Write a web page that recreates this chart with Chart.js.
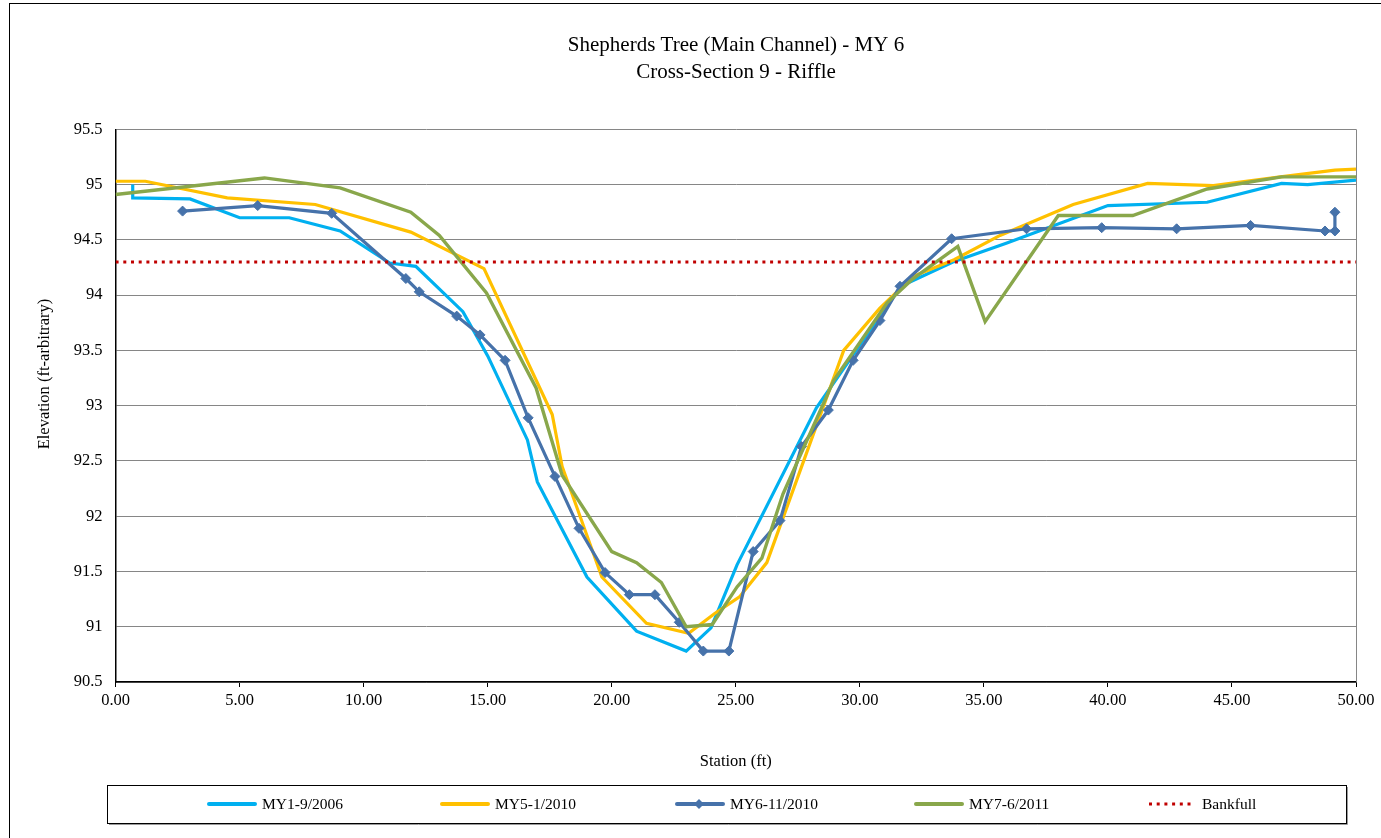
<!DOCTYPE html>
<html>
<head>
<meta charset="utf-8">
<title>Shepherds Tree - Cross-Section 9</title>
<script src="https://cdn.jsdelivr.net/npm/chart.js@4.4.1/dist/chart.umd.min.js"></script>
<style>
  html, body { margin:0; padding:0; background:#fff; }
  #wrap { width:1381px; height:838px; position:relative; }
</style>
</head>
<body>
<div id="wrap">
  <canvas id="xsChart" width="1381" height="838"></canvas>
</div>
<script>

/* DATA */

const titleLines = ["Shepherds Tree (Main Channel) - MY 6", "Cross-Section 9 - Riffle"];
const xTitle = "Station (ft)";
const yTitle = "Elevation (ft-arbitrary)";

const xTicks = [0, 5, 10, 15, 20, 25, 30, 35, 40, 45, 50];
const yTicks = [90.5, 91, 91.5, 92, 92.5, 93, 93.5, 94, 94.5, 95, 95.5];

const my1Station = [0.69, 0.69, 3.0, 5.0, 7.0, 9.05, 11.05, 12.1, 14.0, 15.0, 16.6, 17.0, 19.0, 21.0, 23.0, 24.0, 25.05, 28.25, 31.65, 33.75, 35.9, 40.0, 44.0, 47.0, 48.05, 50.0];
const my1Elev    = [95.0, 94.88, 94.87, 94.70, 94.70, 94.58, 94.29, 94.26, 93.85, 93.45, 92.69, 92.31, 91.45, 90.96, 90.78, 90.99, 91.56, 92.98, 94.08, 94.30, 94.47, 94.81, 94.84, 95.01, 95.0, 95.04];

const my5Station = [0, 1.2, 4.5, 8.05, 11.9, 14.85, 17.1, 17.6, 18.0, 19.6, 21.4, 23.1, 24.15, 25.15, 26.25, 29.35, 30.8, 32.15, 33.8, 35.65, 38.6, 41.6, 44.25, 46.95, 49.15, 50.0];
const my5Elev    = [95.03, 95.03, 94.88, 94.82, 94.57, 94.24, 93.16, 92.92, 92.45, 91.45, 91.03, 90.94, 91.12, 91.27, 91.58, 93.50, 93.88, 94.17, 94.32, 94.54, 94.82, 95.01, 94.99, 95.07, 95.13, 95.14];

const my6Station = [2.7, 5.73, 8.71, 11.7, 12.24, 13.75, 14.69, 15.7, 16.63, 17.71, 18.68, 19.73, 20.71, 21.74, 22.72, 23.69, 24.72, 25.7, 26.78, 27.65, 28.73, 29.73, 30.81, 31.62, 33.7, 36.72, 39.75, 42.77, 45.75, 48.75, 49.15, 49.15];
const my6Elev    = [94.76, 94.81, 94.74, 94.15, 94.03, 93.81, 93.64, 93.41, 92.89, 92.36, 91.89, 91.49, 91.29, 91.29, 91.04, 90.78, 90.78, 91.68, 91.96, 92.63, 92.96, 93.41, 93.77, 94.08, 94.51, 94.60, 94.61, 94.60, 94.63, 94.58, 94.58, 94.75];

const my7Station = [0, 6.0, 9.05, 11.9, 13.05, 14.95, 16.95, 18.0, 20.0, 21.0, 22.0, 23.0, 24.05, 25.05, 26.05, 26.9, 28.95, 31.1, 32.15, 33.95, 35.05, 38.0, 41.0, 44.0, 47.0, 50.0];
const my7Elev    = [94.91, 95.06, 94.97, 94.75, 94.54, 94.02, 93.16, 92.37, 91.68, 91.58, 91.40, 91.0, 91.02, 91.36, 91.62, 92.2, 93.23, 93.93, 94.15, 94.44, 93.76, 94.72, 94.72, 94.96, 95.07, 95.07];

const bankfullStation = [0, 50];
const bankfullElev    = [94.3, 94.3];

const seriesNames = ["MY1-9/2006", "MY5-1/2010", "MY6-11/2010", "MY7-6/2011", "Bankfull"];

/* HELPERS */

function pairs(xs, ys){
  return xs.map((x, i) => ({ x: x, y: ys[i] }));
}

const serif = "'Liberation Serif', 'Times New Roman', serif";

/* DECORATION: titles, y title, legend, borders */

const decor = {
  id: "decor",
  beforeDraw(chart){
    const ctx = chart.ctx;
    ctx.save();
    ctx.fillStyle = "#fff";
    ctx.fillRect(0, 0, chart.width, chart.height);
    ctx.strokeStyle = "#000";
    ctx.lineWidth = 1;
    ctx.strokeRect(9.5, 3.5, chart.width + 10, chart.height + 10);
    ctx.restore();
  },
  beforeDatasetsDraw(chart){
    const ctx = chart.ctx;
    const a = chart.chartArea;
    ctx.save();
    ctx.strokeStyle = "#868686";
    ctx.lineWidth = 1;
    ctx.beginPath();
    ctx.moveTo(Math.round(a.right) + 0.5, a.top);
    ctx.lineTo(Math.round(a.right) + 0.5, a.bottom);
    ctx.stroke();
    ctx.restore();
  },
  afterDraw(chart){
    const ctx = chart.ctx;
    ctx.save();
    ctx.fillStyle = "#000";
    ctx.textAlign = "center";
    ctx.textBaseline = "middle";
    ctx.font = "21px " + serif;
    ctx.fillText(titleLines[0], 736, 45);
    ctx.fillText(titleLines[1], 736, 72);

    ctx.font = "16.5px " + serif;
    ctx.translate(45, 374);
    ctx.rotate(-Math.PI / 2);
    ctx.fillText(yTitle, 0, 0);
    ctx.restore();

    // legend
    ctx.save();
    ctx.strokeStyle = "#000";
    ctx.lineWidth = 1;
    ctx.strokeRect(107.5, 785.5, 1239, 38);
    ctx.strokeStyle = "#9a9a9a";
    ctx.beginPath();
    ctx.moveTo(109, 824.5); ctx.lineTo(1347.5, 824.5); ctx.lineTo(1347.5, 787);
    ctx.stroke();

    const slots = [207, 440, 675, 914, 1147];
    const ly = 804;
    ctx.font = "15.5px " + serif;
    ctx.textAlign = "left";
    ctx.textBaseline = "middle";
    seriesNames.forEach((name, i) => {
      const ds = chart.data.datasets[i];
      const x0 = slots[i];
      ctx.save();
      ctx.strokeStyle = ds.borderColor;
      ctx.lineWidth = ds.borderDash ? 3 : 4;
      ctx.lineCap = ds.borderDash ? "butt" : "round";
      ctx.setLineDash(ds.borderDash || []);
      ctx.beginPath();
      ctx.moveTo(x0 + 2, ly);
      ctx.lineTo(x0 + 48, ly);
      ctx.stroke();
      ctx.restore();
      if(ds.pointRadius > 0){
        const cx = x0 + 24, r = ds.pointRadius;
        ctx.fillStyle = ds.pointBackgroundColor;
        ctx.beginPath();
        ctx.moveTo(cx - r, ly); ctx.lineTo(cx, ly - r);
        ctx.lineTo(cx + r, ly); ctx.lineTo(cx, ly + r);
        ctx.closePath();
        ctx.fill();
      }
      ctx.fillStyle = "#000";
      ctx.fillText(name, x0 + 55, ly + 1);
    });
    ctx.restore();
  }
};

/* CHART */

const xsChart = new Chart(
  document.getElementById("xsChart"),
  {
    type: "line",
    data: {
      datasets: [
        {
          label: seriesNames[0],
          data: pairs(my1Station, my1Elev),
          borderColor: "#00B0F0",
          borderWidth: 3.2,
          pointRadius: 0,
          order: 4
        },
        {
          label: seriesNames[1],
          data: pairs(my5Station, my5Elev),
          borderColor: "#FFC000",
          borderWidth: 3.2,
          pointRadius: 0,
          order: 3
        },
        {
          label: seriesNames[2],
          data: pairs(my6Station, my6Elev),
          borderColor: "#4672AA",
          borderWidth: 3.2,
          pointStyle: "rectRot",
          pointRadius: 5,
          pointBackgroundColor: "#4672AA",
          pointBorderColor: "#4672AA",
          pointBorderWidth: 1,
          order: 2
        },
        {
          label: seriesNames[3],
          data: pairs(my7Station, my7Elev),
          borderColor: "#89A74B",
          borderWidth: 3.4,
          pointRadius: 0,
          order: 1
        },
        {
          label: seriesNames[4],
          data: pairs(bankfullStation, bankfullElev),
          borderColor: "#C00000",
          borderWidth: 3,
          borderDash: [3, 4.7],
          pointRadius: 0,
          order: 0
        }
      ]
    },
    options: {
      responsive: false,
      animation: false,
      events: [],
      layout: {
        padding: { top: 129.3, right: 25, bottom: 66, left: 0 }
      },
      elements: {
        line: { tension: 0, fill: false, borderJoinStyle: "miter" }
      },
      plugins: {
        legend: { display: false },
        title: { display: false },
        tooltip: { enabled: false }
      },
      scales: {
        x: {
          type: "linear",
          min: 0,
          max: 50,
          afterBuildTicks: (scale) => { scale.ticks = xTicks.map(v => ({ value: v })); },
          afterFit: (scale) => { scale.height = 90; },
          ticks: {
            color: "#000",
            padding: 4,
            maxRotation: 0,
            font: { family: serif, size: 16.5 },
            callback: (v) => Number(v).toFixed(2)
          },
          grid: {
            drawOnChartArea: false,
            drawTicks: true,
            tickLength: 5,
            color: "#000"
          },
          border: { color: "#000", width: 1.5 },
          title: {
            display: true,
            text: xTitle,
            color: "#000",
            font: { family: serif, size: 16.5 },
            padding: { top: 0, bottom: 0 }
          }
        },
        y: {
          type: "linear",
          min: 90.5,
          max: 95.5,
          afterBuildTicks: (scale) => { scale.ticks = yTicks.map(v => ({ value: v })); },
          afterFit: (scale) => { scale.width = 115.6; },
          ticks: {
            color: "#000",
            padding: 13,
            font: { family: serif, size: 16.5 },
            callback: (v) => String(v)
          },
          grid: {
            color: "#868686",
            lineWidth: 1,
            drawTicks: false
          },
          border: { color: "#000", width: 1.5 }
        }
      }
    },
    plugins: [decor]
  }
);

</script>
</body>
</html>
